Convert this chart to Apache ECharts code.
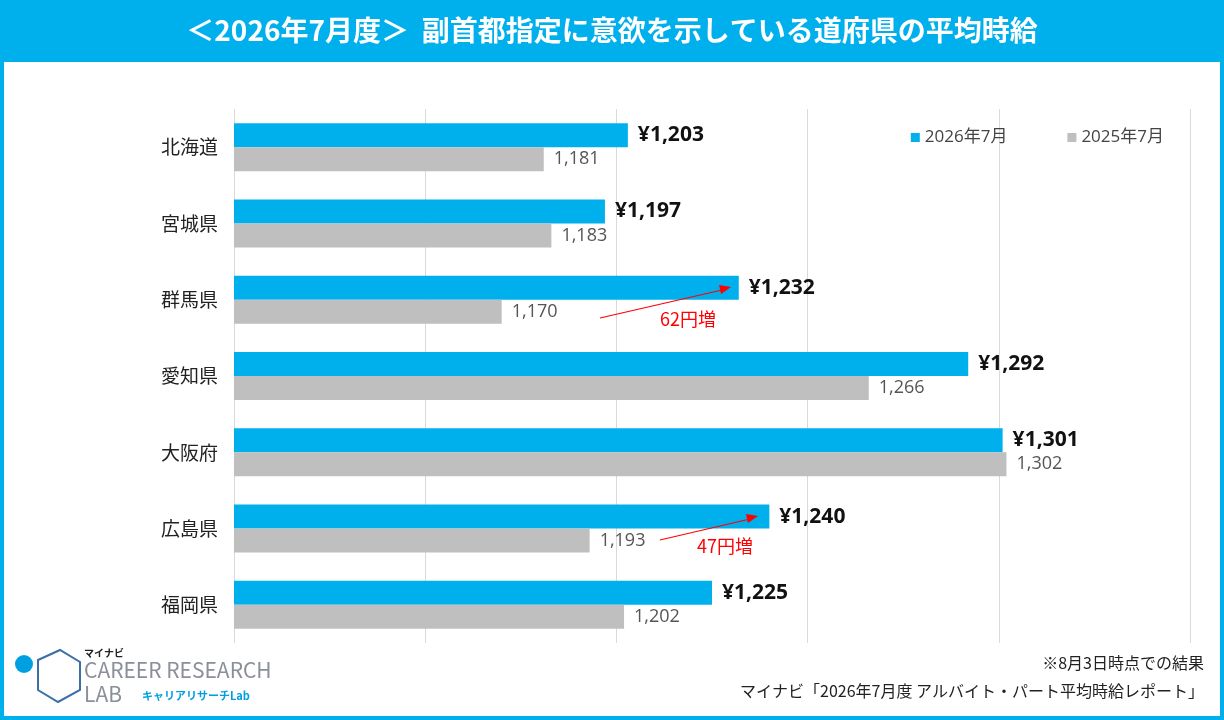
<!DOCTYPE html>
<html><head><meta charset="utf-8">
<script src="https://cdn.jsdelivr.net/npm/echarts@6/dist/echarts.min.js"></script>
<style>html,body{margin:0;padding:0;background:#fff}#c{width:1224px;height:720px}</style>
</head><body><div id="c"></div>
<script>
const categories = ['北海道', '宮城県', '群馬県', '愛知県', '大阪府', '広島県', '福岡県'];
const values2026 = [1203, 1197, 1232, 1292, 1301, 1240, 1225];
const values2025 = [1181, 1183, 1170, 1266, 1302, 1193, 1202];
const seriesNames = ['2026年7月', '2025年7月'];

const chart = echarts.init(document.getElementById('c'));
const font = '"Noto Sans CJK JP", "Noto Sans", sans-serif';
const fmt = v => v.toLocaleString('en-US');

chart.setOption({
  textStyle: { fontFamily: font },
  title: {
    text: '＜2026年7月度＞  副首都指定に意欲を示している道府県の平均時給',
    left: 'center', top: 11,
    textStyle: { color: '#fff', fontSize: 28, fontWeight: 'bold', fontFamily: font }
  },
  legend: {
    data: seriesNames, right: 55, top: 124, itemWidth: 9, itemHeight: 9, itemGap: 60,
    icon: 'rect', textStyle: { fontSize: 17, color: '#444', fontFamily: '"Open Sans", "Noto Sans CJK JP"' }
  },
  grid: { left: 234, right: 34, top: 109, bottom: 77 },
  xAxis: {
    type: 'value', min: 1100, max: 1350, interval: 50,
    axisLabel: { show: false }, axisLine: { show: false }, axisTick: { show: false },
    splitLine: { lineStyle: { color: '#d9d9d9' } }
  },
  yAxis: {
    type: 'category', data: categories, inverse: true,
    axisLine: { show: false }, axisTick: { show: false },
    axisLabel: { fontSize: 19, color: '#222', margin: 16 }
  },
  series: [
    {
      name: seriesNames[0], type: 'bar', data: values2026, barWidth: 24, barGap: '0%',
      itemStyle: { color: '#00b0ec' },
      label: { show: true, position: 'right', distance: 10, formatter: p => '¥' + fmt(p.value),
        fontSize: 21, fontWeight: 'bold', color: '#111', fontFamily: '"Open Sans", sans-serif' }
    },
    {
      name: seriesNames[1], type: 'bar', data: values2025, barWidth: 24,
      itemStyle: { color: '#bfbfbf' },
      label: { show: true, position: 'right', distance: 10, formatter: p => fmt(p.value),
        fontSize: 18, color: '#555', fontFamily: '"Open Sans", sans-serif' }
    }
  ],
  graphic: [
    { type: 'rect', shape: { x: 2, y: 2, width: 1220, height: 716 }, style: { fill: 'none', stroke: '#00b0ec', lineWidth: 4 }, z: -1 },
    { type: 'rect', shape: { x: 0, y: 0, width: 1224, height: 62 }, style: { fill: '#00b0ec' }, z: -1 },
    { type: 'line', z: 100, shape: { x1: 600, y1: 318, x2: 722, y2: 290 }, style: { stroke: '#ff0000', lineWidth: 1.2 } },
    { type: 'polygon', z: 100, shape: { points: [[731, 287], [719, 285], [721, 294]] }, style: { fill: '#ff0000' } },
    { type: 'text', z: 100, left: 660, top: 310, style: { text: '62円増', fill: '#ff0000', fontSize: 18, fontFamily: font } },
    { type: 'line', z: 100, shape: { x1: 660, y1: 540, x2: 750, y2: 519 }, style: { stroke: '#ff0000', lineWidth: 1.2 } },
    { type: 'polygon', z: 100, shape: { points: [[758, 516], [746, 514], [748, 523]] }, style: { fill: '#ff0000' } },
    { type: 'text', z: 100, left: 697, top: 537, style: { text: '47円増', fill: '#ff0000', fontSize: 18, fontFamily: font } },
    { type: 'text', right: 20, top: 655, style: { text: '※8月3日時点での結果', fill: '#222', fontSize: 16, fontFamily: font, align: 'right' } },
    { type: 'text', right: 20, top: 683, style: { text: 'マイナビ「2026年7月度 アルバイト・パート平均時給レポート」', fill: '#222', fontSize: 16, fontFamily: font, align: 'right' } },
    { type: 'circle', shape: { cx: 24, cy: 664, r: 9 }, style: { fill: '#00a0e0' } },
    { type: 'polygon', shape: { points: [[38, 660], [60, 650], [80, 662], [80, 690], [58, 702], [38, 690]] }, style: { fill: 'none', stroke: '#3a6fa8', lineWidth: 2 } },
    { type: 'text', left: 84, top: 648, style: { text: 'マイナビ', fill: '#222', fontSize: 10, fontWeight: 'bold', fontFamily: font } },
    { type: 'text', left: 84, top: 660, style: { text: 'CAREER RESEARCH', fill: '#8a8f99', fontSize: 21, fontFamily: font } },
    { type: 'text', left: 84, top: 684, style: { text: 'LAB', fill: '#8a8f99', fontSize: 21, fontFamily: font } },
    { type: 'text', left: 142, top: 690, style: { text: 'キャリアリサーチLab', fill: '#00a0e0', fontSize: 11, fontWeight: 'bold', fontFamily: font } }
  ]
});
</script></body></html>
